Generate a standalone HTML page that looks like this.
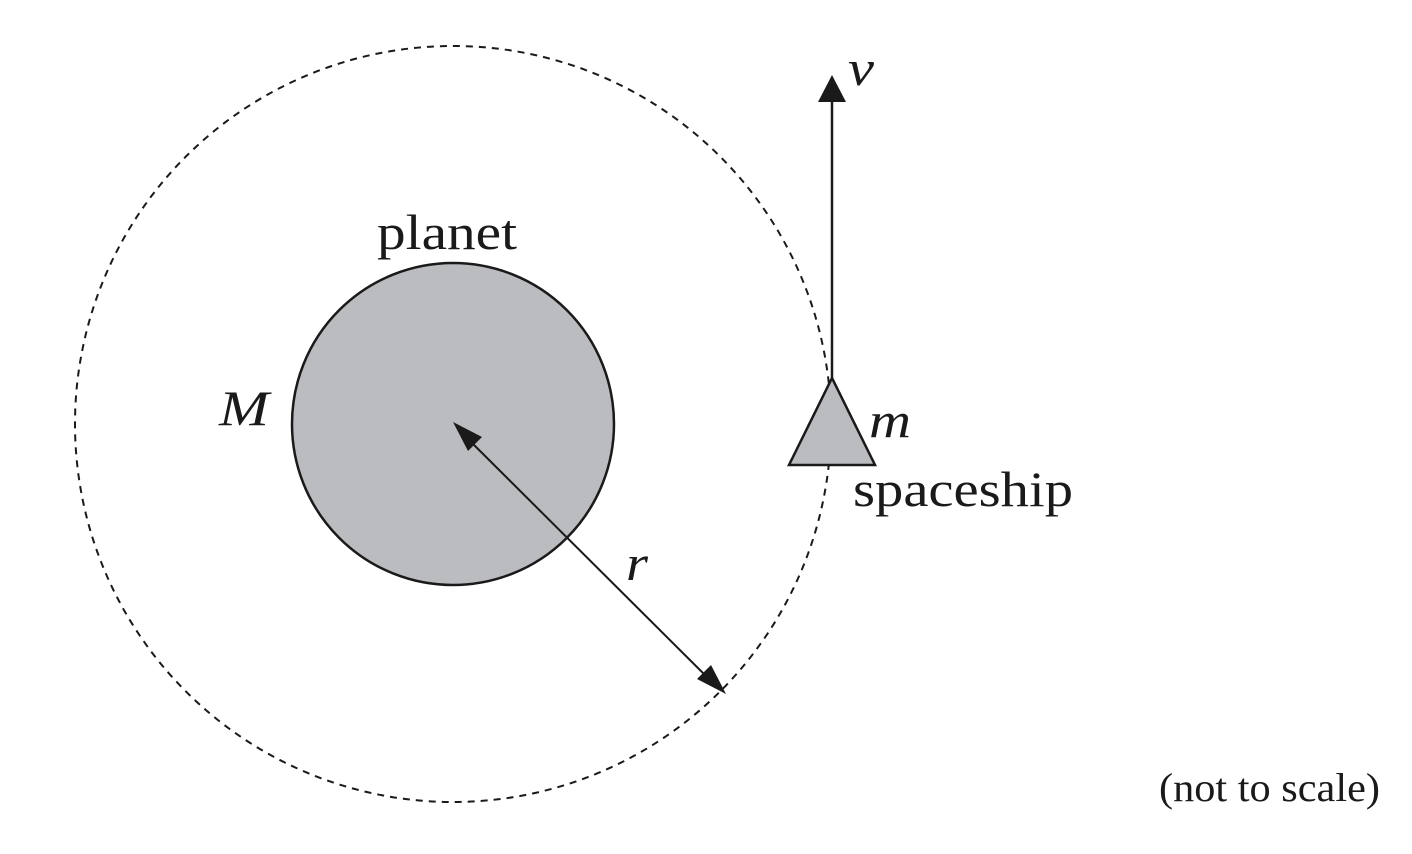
<!DOCTYPE html>
<html><head><meta charset="utf-8"><style>
html,body{margin:0;padding:0;background:#fff;}
svg{display:block;}
text{font-family:"Liberation Serif",serif;fill:#1a1a1a;}
</style></head><body>
<svg width="1412" height="854" viewBox="0 0 1412 854" xmlns="http://www.w3.org/2000/svg">
<circle cx="453" cy="424" r="378" fill="none" stroke="#1a1a1a" stroke-width="2" stroke-dasharray="7,6"/>
<circle cx="453" cy="424" r="161" fill="#bbbcc0" stroke="#1a1a1a" stroke-width="2.5"/>
<line x1="468" y1="439" x2="710" y2="680" stroke="#1a1a1a" stroke-width="2"/>
<polygon points="453,422 482,437 468,451" fill="#1a1a1a"/>
<polygon points="726,694 697,679 711,665" fill="#1a1a1a"/>
<line x1="832" y1="380" x2="832" y2="98" stroke="#1a1a1a" stroke-width="2.5"/>
<polygon points="832,75 818,102 846,102" fill="#1a1a1a"/>
<polygon points="832,378 789,465 875,465" fill="#bbbcc0" stroke="#1a1a1a" stroke-width="2.5"/>
<text x="377" y="249" font-size="50" textLength="140" lengthAdjust="spacingAndGlyphs">planet</text>
<text x="219" y="425" font-size="50" font-style="italic" textLength="50" lengthAdjust="spacingAndGlyphs">M</text>
<text x="869" y="437" font-size="50" font-style="italic" textLength="42" lengthAdjust="spacingAndGlyphs">m</text>
<text x="853" y="506" font-size="50" textLength="220" lengthAdjust="spacingAndGlyphs">spaceship</text>
<text x="626" y="580" font-size="50" font-style="italic" textLength="22" lengthAdjust="spacingAndGlyphs">r</text>
<text x="848" y="85" font-size="50" font-style="italic" textLength="26" lengthAdjust="spacingAndGlyphs">v</text>
<text x="1159" y="801" font-size="40" textLength="221" lengthAdjust="spacingAndGlyphs">(not to scale)</text>
</svg>
</body></html>
